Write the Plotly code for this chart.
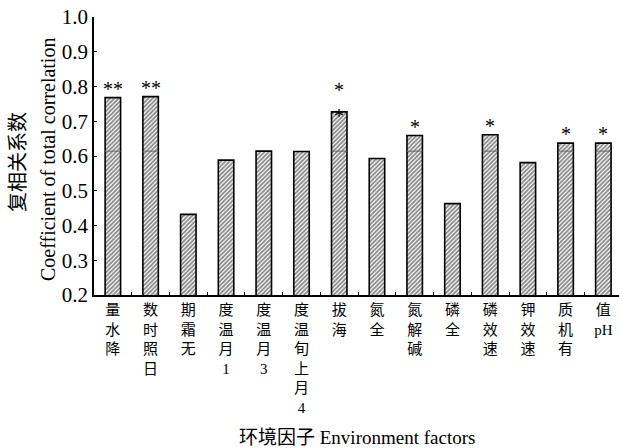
import plotly.graph_objects as go

factors = ["降水量", "日照时数", "无霜期", "1月温度", "3月温度", "4月上旬温度", "海拔",
           "全氮", "碱解氮", "全磷", "速效磷", "速效钾", "有机质", "pH值"]
values = [0.768, 0.771, 0.432, 0.588, 0.614, 0.613, 0.727, 0.593, 0.659, 0.463,
          0.661, 0.581, 0.637, 0.637]
signif = ["**", "**", "", "", "", "", "*<br>*", "", "*", "", "*", "", "*", "*"]
threshold = 0.614
y_ticks = [0.2, 0.3, 0.4, 0.5, 0.6, 0.7, 0.8, 0.9, 1.0]

SERIF = "Liberation Serif, Times New Roman, Noto Sans CJK SC, serif"


def stack_label(s):
    """Split into segments (ASCII runs kept together), stacked bottom-to-top."""
    segs = []
    buf = ""
    for ch in s:
        if ord(ch) < 128:
            buf += ch
        else:
            if buf:
                segs.append(buf)
                buf = ""
            segs.append(ch)
    if buf:
        segs.append(buf)
    return "<br>".join(reversed(segs))


x_labels = [stack_label(f) for f in factors]
bar_w = 0.41

fig = go.Figure()
fig.add_trace(go.Bar(
    x=x_labels, y=values, width=bar_w,
    marker=dict(color="white",
                line=dict(color="black", width=1.6),
                pattern=dict(shape="/", fgcolor="#111111", bgcolor="white",
                             size=3, solidity=0.6)),
    hoverinfo="skip",
))

# threshold line inside bars exceeding it
for i, v in enumerate(values):
    if v > threshold:
        fig.add_shape(type="line", xref="x", yref="y",
                      x0=i - bar_w / 2, x1=i + bar_w / 2, y0=threshold, y1=threshold,
                      line=dict(color="#666666", width=1))

# significance marks
for i, (v, s) in enumerate(zip(values, signif)):
    if s:
        fig.add_annotation(x=i, y=v, xref="x", yref="y", text=s, showarrow=False,
                           yanchor="middle", yshift=9,
                           font=dict(family=SERIF, size=20, color="black"))

# axis titles
fig.add_annotation(xref="paper", yref="paper", x=0.5, y=0, yanchor="middle",
                   yshift=-142, showarrow=False,
                   text="环境因子 Environment factors",
                   font=dict(family=SERIF, size=19, color="black"))
fig.add_annotation(xref="paper", yref="paper", x=0, y=0.5, xanchor="center",
                   yanchor="middle", xshift=-76, yshift=-6, textangle=-90,
                   showarrow=False, text="复相关系数",
                   font=dict(family=SERIF, size=20, color="black"))
fig.add_annotation(xref="paper", yref="paper", x=0, y=0.5, xanchor="center",
                   yanchor="middle", xshift=-46, yshift=-4, textangle=-90,
                   showarrow=False, text="Coefficient of total correlation",
                   font=dict(family=SERIF, size=20, color="black"))

fig.update_layout(
    width=619, height=448,
    margin=dict(l=94, r=0, t=17, b=153, pad=0),
    plot_bgcolor="white", paper_bgcolor="white",
    showlegend=False,
    font=dict(family=SERIF, color="black"),
)
fig.update_xaxes(
    type="category", range=[-0.5, 13.415],
    showline=True, linecolor="black", linewidth=2,
    ticks="inside", ticklen=3, tickcolor="black", tickwidth=1,
    tickson="boundaries", tickangle=0,
    tickfont=dict(family=SERIF, size=15, color="black"),
    showgrid=False, zeroline=False, automargin=False,
)
fig.update_yaxes(
    range=[0.2, 1.0], tickvals=y_ticks, ticktext=[f"{t:.1f}" for t in y_ticks],
    showline=True, linecolor="black", linewidth=1.5,
    ticks="inside", ticklen=3, tickcolor="black", tickwidth=1,
    tickfont=dict(family=SERIF, size=21, color="black"),
    showgrid=False, zeroline=False, automargin=False,
)

fig.write_html("out.html", config={"displayModeBar": False},
               post_script="document.body.style.margin='0';")
